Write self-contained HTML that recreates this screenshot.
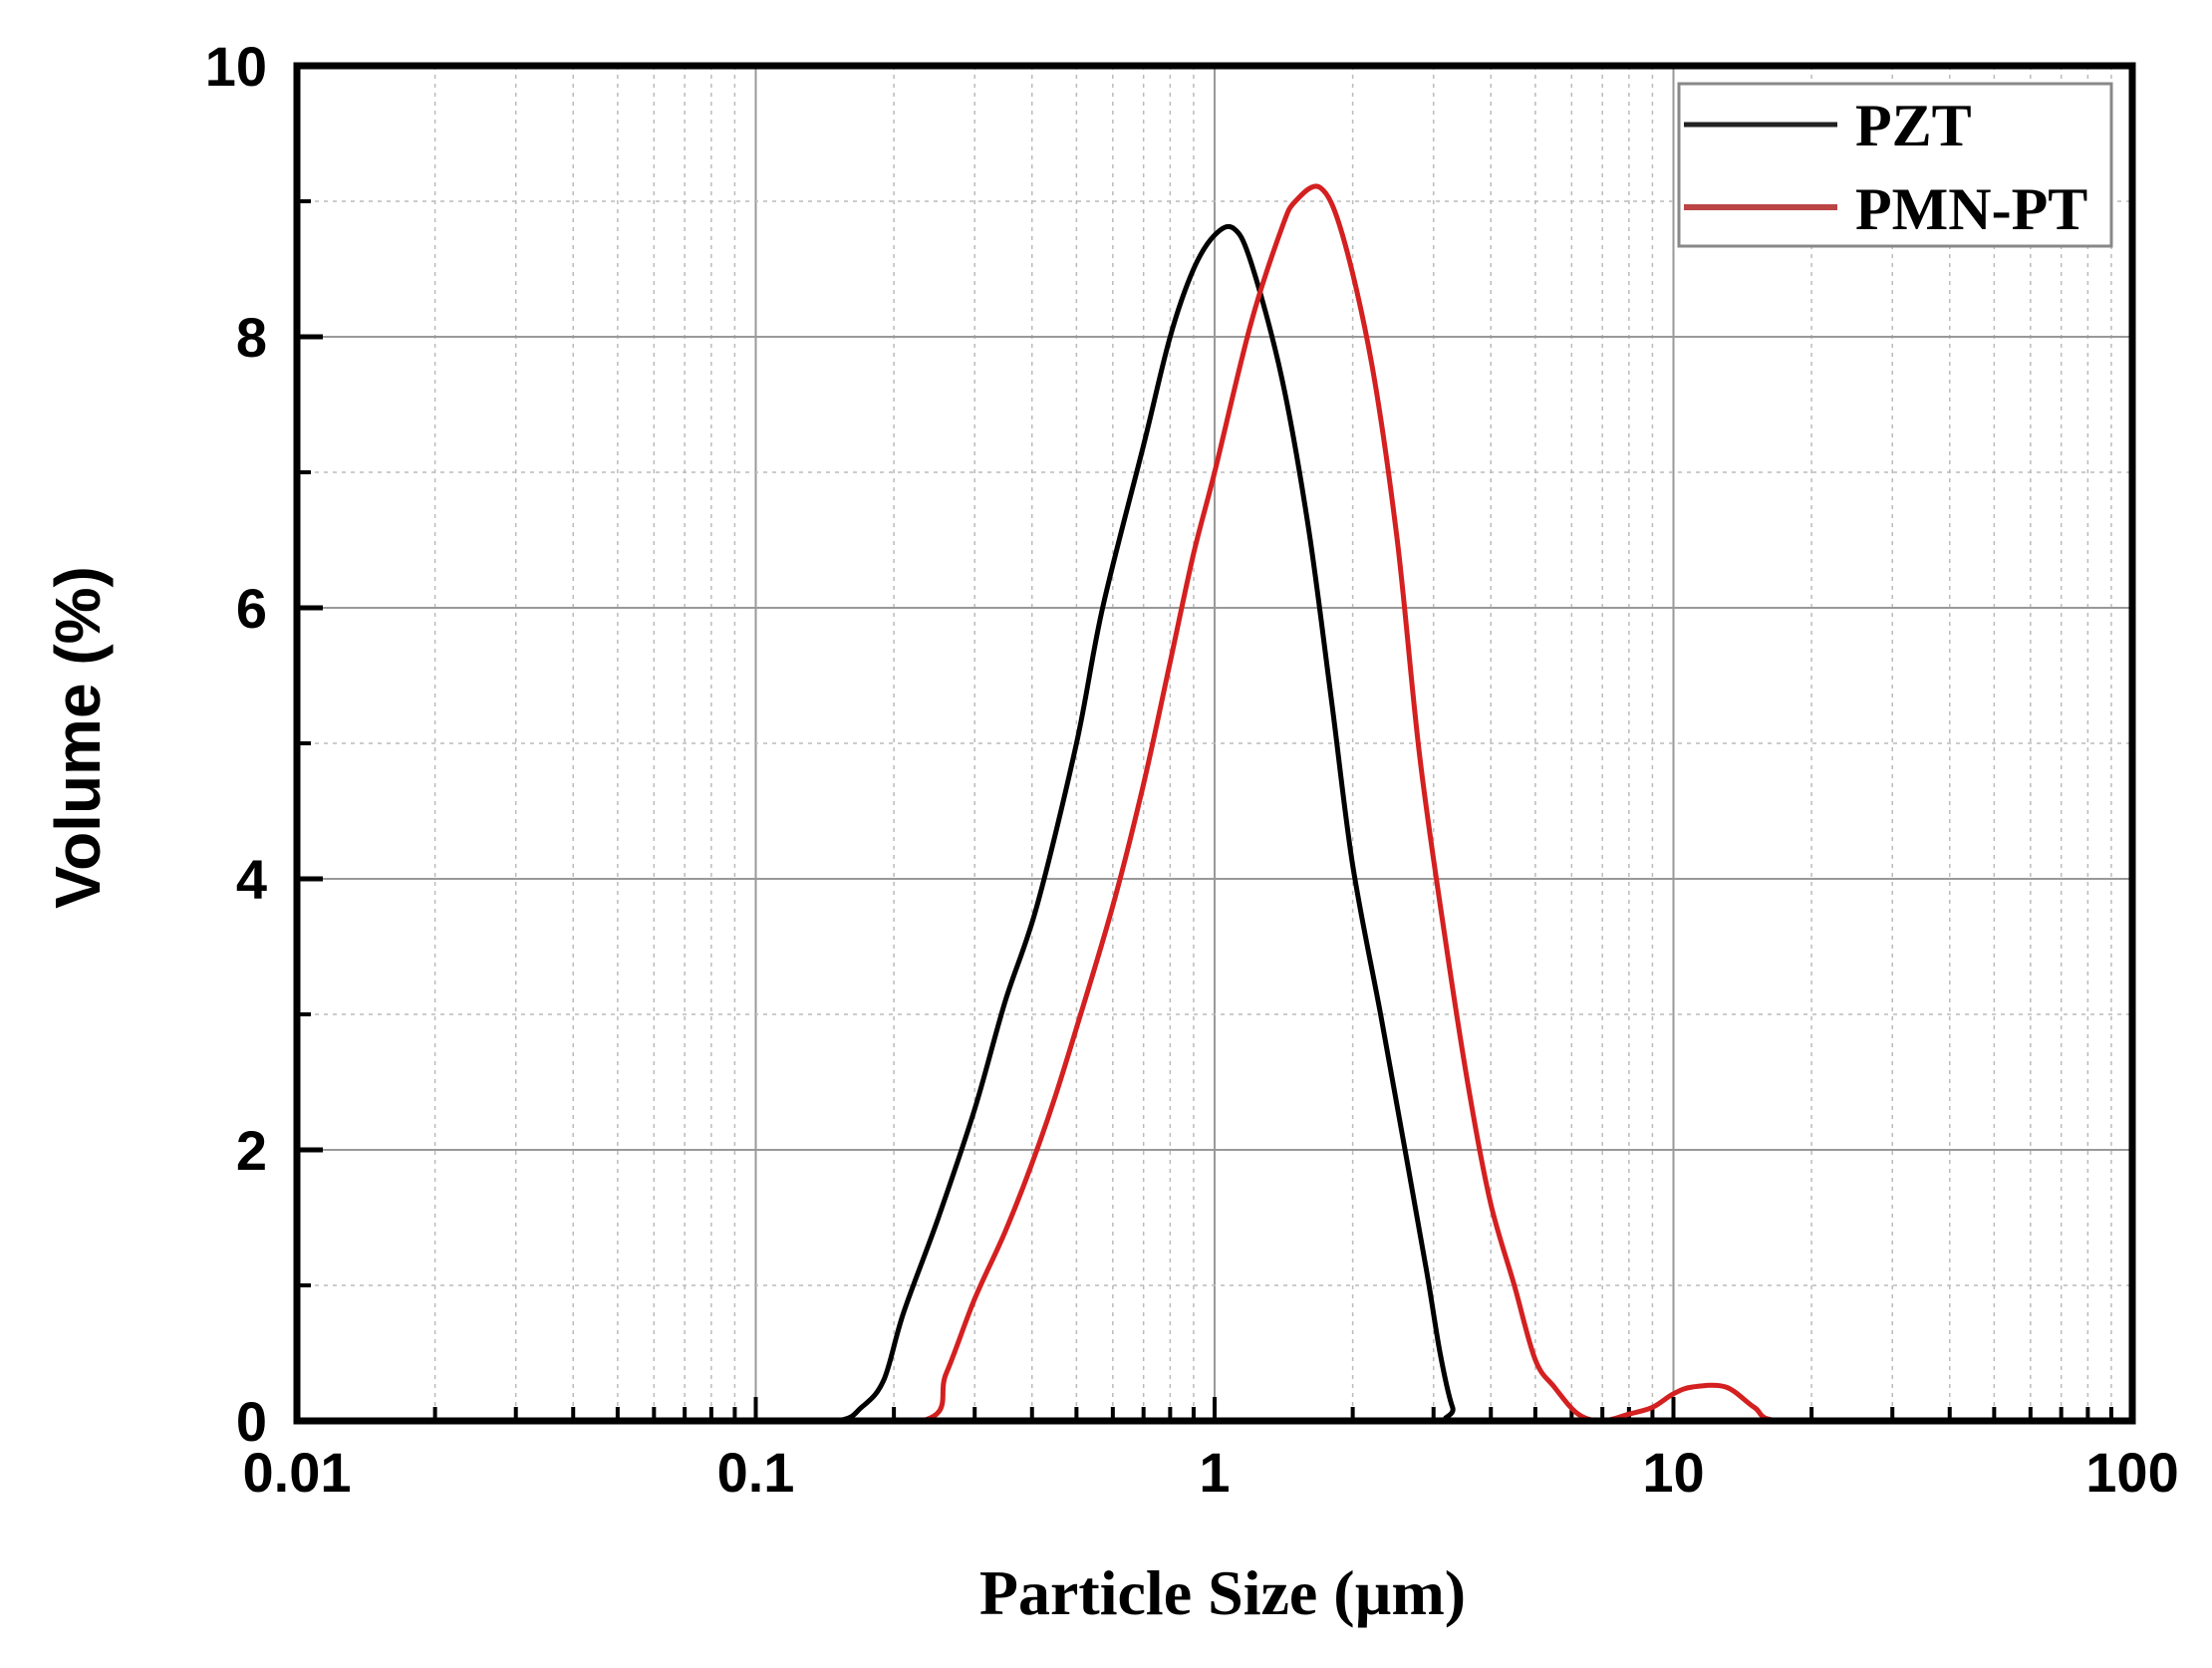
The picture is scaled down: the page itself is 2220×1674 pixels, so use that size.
<!DOCTYPE html><html><head><style>body{margin:0;background:#fff}</style></head><body>
<svg id="s" width="2220" height="1669" xmlns="http://www.w3.org/2000/svg"></svg>
<script>
const L=298,R=2140,T=66,B=1426,dec=(R-L)/4;
const X=v=>L+(Math.log10(v)+2)*dec, Y=v=>B-(B-T)*v/10;
let h='<rect width="2220" height="1669" fill="#fff"/>';
for(let d=-2;d<2;d++)for(let k=2;k<10;k++){const x=X(k*Math.pow(10,d));h+=`<line x1="${x}" y1="${T}" x2="${x}" y2="${B}" stroke="#bbb" stroke-width="1.5" stroke-dasharray="4,5"/><line x1="${x}" y1="${B}" x2="${x}" y2="${B-14}" stroke="#000" stroke-width="4"/>`;}
for(let d=-1;d<2;d++){const x=X(Math.pow(10,d));h+=`<line x1="${x}" y1="${T}" x2="${x}" y2="${B}" stroke="#999" stroke-width="2"/><line x1="${x}" y1="${B}" x2="${x}" y2="${B-24}" stroke="#000" stroke-width="4"/>`;}
for(let v=1;v<10;v++){const y=Y(v);if(v%2)h+=`<line x1="${L}" y1="${y}" x2="${R}" y2="${y}" stroke="#bbb" stroke-width="1.5" stroke-dasharray="4,5"/><line x1="${L}" y1="${y}" x2="${L+14}" y2="${y}" stroke="#000" stroke-width="4"/>`;else h+=`<line x1="${L}" y1="${y}" x2="${R}" y2="${y}" stroke="#999" stroke-width="2"/><line x1="${L}" y1="${y}" x2="${L+26}" y2="${y}" stroke="#000" stroke-width="5"/>`;}
for(let v=0;v<=10;v+=2)h+=`<text x="268" y="${Y(v)+20}" text-anchor="end" font-family="Liberation Sans" font-weight="bold" font-size="56">${v}</text>`;
[["0.01",0.01],["0.1",0.1],["1",1],["10",10],["100",100]].forEach(a=>h+=`<text x="${X(a[1])}" y="1497" text-anchor="middle" font-family="Liberation Sans" font-weight="bold" font-size="56">${a[0]}</text>`);
function path(pts){const P=pts.map(p=>[X(p[0]),Y(p[1])]);let d='M'+P[0][0].toFixed(1)+','+P[0][1].toFixed(1);
for(let i=0;i<P.length-1;i++){const p0=P[Math.max(0,i-1)],p1=P[i],p2=P[i+1],p3=P[Math.min(P.length-1,i+2)];
const c1=[p1[0]+(p2[0]-p0[0])/6,p1[1]+(p2[1]-p0[1])/6],c2=[p2[0]-(p3[0]-p1[0])/6,p2[1]-(p3[1]-p1[1])/6];
c1[1]=Math.min(c1[1],B);c2[1]=Math.min(c2[1],B);
d+=`C${c1[0].toFixed(1)},${c1[1].toFixed(1)} ${c2[0].toFixed(1)},${c2[1].toFixed(1)} ${p2[0].toFixed(1)},${p2[1].toFixed(1)}`;}return d;}
const pzt=[[0.01,0],[0.1,0],[0.15,0],[0.17,0.1],[0.19,0.3],[0.21,0.8],[0.25,1.5],[0.3,2.3],[0.35,3.1],[0.41,3.8],[0.5,5.0],[0.57,6.0],[0.7,7.2],[0.8,8.0],[0.9,8.5],[1.0,8.75],[1.1,8.8],[1.2,8.55],[1.4,7.7],[1.6,6.6],[1.8,5.3],[2.0,4.1],[2.3,3.0],[2.6,2.0],[2.9,1.1],[3.1,0.5],[3.3,0.1],[3.5,0],[10,0],[100,0]];
const pmn=[[0.01,0],[0.1,0],[0.23,0],[0.26,0.35],[0.3,0.9],[0.35,1.4],[0.4,1.9],[0.45,2.4],[0.5,2.9],[0.6,3.8],[0.7,4.7],[0.8,5.6],[0.9,6.4],[1.0,7.0],[1.2,8.1],[1.4,8.8],[1.5,9.0],[1.7,9.1],[1.9,8.75],[2.2,7.8],[2.5,6.5],[2.8,4.9],[3.2,3.5],[3.6,2.4],[4.0,1.6],[4.5,1.0],[5.0,0.45],[5.5,0.25],[6.2,0.05],[7,0],[8,0.05],[9,0.1],[10,0.2],[11,0.25],[13,0.25],[15,0.1],[17,0],[30,0],[100,0]];
h+=`<path d="${path(pzt)}" fill="none" stroke="#000" stroke-width="5"/>`;
h+=`<path d="${path(pmn)}" fill="none" stroke="#d42020" stroke-width="5"/>`;
h+=`<rect x="${L}" y="${T}" width="${R-L}" height="${B-T}" fill="none" stroke="#000" stroke-width="7"/>`;
h+=`<rect x="1685" y="84" width="434" height="163" fill="#fff" stroke="#888" stroke-width="3"/>`;
h+=`<line x1="1690" y1="125" x2="1844" y2="125" stroke="#222" stroke-width="5"/><line x1="1690" y1="208" x2="1844" y2="208" stroke="#b44" stroke-width="6"/>`;
h+=`<text x="1862" y="146" font-family="Liberation Serif" font-weight="bold" font-size="60">PZT</text><text x="1862" y="230" font-family="Liberation Serif" font-weight="bold" font-size="60">PMN-PT</text>`;
h+=`<text x="1227" y="1620" text-anchor="middle" font-family="Liberation Serif" font-weight="bold" font-size="64">Particle Size (µm)</text>`;
h+=`<text transform="translate(100,740) rotate(-90)" text-anchor="middle" font-family="Liberation Sans" font-weight="bold" font-size="64">Volume (%)</text>`;
document.getElementById('s').innerHTML=h;
</script></body></html>
